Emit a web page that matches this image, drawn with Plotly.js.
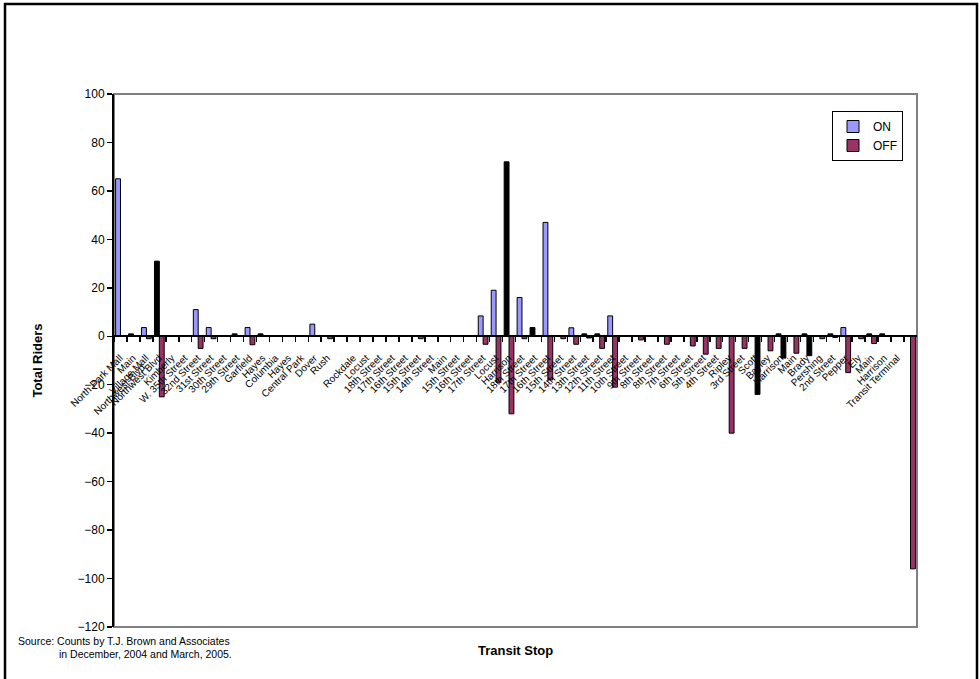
<!DOCTYPE html>
<html><head><meta charset="utf-8">
<script src="https://cdn.plot.ly/plotly-3.0.1.min.js"></script>
<style>html,body{margin:0;padding:0;background:#fff}#chart{width:980px;height:679px}</style>
</head><body><div id="chart"></div>
<script>
const stops = [
 "North Park Mall","Main<br>Northwest Blvd","Village Mall","Northwest Blvd","Kimberly","W. 35th Street","32nd Street",
 "31st Street","30th Street","29th Street","Garfield","Hayes","Columbia","Hayes","Central Park","Dover","Rush","",
 "Rockdale","Locust","18th Street","17th Street","16th Street","15th Street","14th Street","Main","15th Street",
 "16th Street","17th Street","Locust","Harrison","18th Street","17th Street","16th Street","15th Street","14th Street",
 "13th Street","12th Street","11th Street","10th Street","9th Street","8th Street","8th Street","7th Street",
 "6th Street","5th Street","4th Street","Ripley","3rd Street","Scott","Bayley","Harrison","Main","Brady",
 "Pershing","2nd Street","Pepper","Ely","Main","Harrison","Transit Terminal",""
];
const onRiders = [
 65,1,3.6,31,null,null,11,3.6,null,1,3.6,1,null,null,null,5,null,null,
 null,null,null,null,null,null,null,null,null,null,8.4,19,72,16,3.6,47,null,3.5,
 1,1,8.4,null,null,null,null,null,null,null,null,null,null,null,null,1,null,1,
 null,1,3.6,null,1,1,null,null
];
const offRiders = [
 null,null,-1,-25,null,null,-5,-1,null,null,-3.5,null,null,null,null,null,-1,null,
 null,null,null,null,null,-1,null,null,null,null,-3.3,-19,-32,-1,null,-18,-1,-3.3,
 -0.7,-5,-21,null,-1.5,null,-3.3,null,-4,-7.4,-5,-40,-5,-24,-6,-9,-7,-8,
 -1,-0.5,-15,-1,-3,null,null,-96
];
const yTicks = [100,80,60,40,20,0,-20,-40,-60,-80,-100,-120];
const darkOn = [1,3,9,11,30,32,36,37,51,53,55,58,59];
const darkOff = [36,49,51,53];

const idx = stops.map((_, i) => i);
const W = 980, H = 679, L = 114, R = 917, T = 94, B = 627;
const pw = R - L, ph = B - T;
const px = v => (v - L) / pw;
const py = v => (B - v) / ph;
const yMin = -120, yMax = 100;
const zeroPos = (0 - yMin) / (yMax - yMin);
const FONT = 'Liberation Sans, Arial, sans-serif';

const traces = [
 {type:'bar', name:'ON', x: idx, y: onRiders,
  marker:{color: idx.map(i => darkOn.includes(i) ? '#000000' : '#9999FF'), line:{color:'#000', width:1}},
  hoverinfo:'skip'},
 {type:'bar', name:'OFF', x: idx, y: offRiders,
  marker:{color: idx.map(i => darkOff.includes(i) ? '#000000' : '#993366'), line:{color:'#000', width:1}},
  hoverinfo:'skip'}
];

const layout = {
 width: W, height: H,
 margin: {l: L, r: W - R, t: T, b: H - B, pad: 0},
 paper_bgcolor: '#fff', plot_bgcolor: '#fff',
 barmode: 'group', bargap: 0.25, bargroupgap: 0,
 font: {family: FONT, color: '#000'},
 showlegend: true,
 legend: {x: px(903), y: py(111), xanchor: 'right', yanchor: 'top',
   bgcolor: '#fff', bordercolor: '#000', borderwidth: 1,
   font: {family: FONT, size: 12, color: '#000'}, itemwidth: 30, tracegroupgap: 0},
 xaxis: {
   range: [-0.5, idx.length - 0.5],
   tickmode: 'array', tickvals: idx.map(i => i - 0.5), ticktext: stops,
   ticklabelshift: 6, ticklabelstandoff: 6, tickangle: -45,
   ticks: 'outside', ticklen: 5, tickwidth: 1.5, tickcolor: '#000',
   showline: true, linecolor: '#000', linewidth: 2,
   anchor: 'free', position: zeroPos,
   showgrid: false, zeroline: false,
   tickfont: {family: FONT, size: 10, color: '#000'}
 },
 yaxis: {
   range: [yMin, yMax], tickmode: 'array', tickvals: yTicks,
   ticks: 'outside', ticklen: 5, tickwidth: 1.5, tickcolor: '#000',
   showline: true, linecolor: '#000', linewidth: 2,
   showgrid: false, zeroline: false,
   tickfont: {family: FONT, size: 12, color: '#000'},
   title: {text: '<b>Total Riders</b>', font: {family: FONT, size: 13, color: '#000'}, standoff: 32}
 },
 shapes: [
   {type:'rect', xref:'paper', yref:'paper', x0:0, x1:1, y0:0, y1:1, line:{color:'#808080', width:2}, layer:'below'},
   {type:'rect', xref:'paper', yref:'paper', x0:px(5), x1:px(977), y0:py(690), y1:py(4), line:{color:'#000', width:2.5}, layer:'below'}
 ],
 annotations: [
   {xref:'paper', yref:'paper', x:px(515), y:py(650), text:'<b>Transit Stop</b>', showarrow:false,
    xanchor:'center', yanchor:'middle', font:{family: FONT, size: 13, color:'#000'}},
   {xref:'paper', yref:'paper', x:px(16), y:py(641), text:'Source: Counts by T.J. Brown and Associates', showarrow:false,
    xanchor:'left', yanchor:'middle', font:{family: FONT, size: 10.5, color:'#000'}},
   {xref:'paper', yref:'paper', x:px(57), y:py(654), text:'in December, 2004 and March, 2005.', showarrow:false,
    xanchor:'left', yanchor:'middle', font:{family: FONT, size: 10.5, color:'#000'}}
 ]
};

Plotly.newPlot('chart', traces, layout, {displayModeBar: false, staticPlot: true});
</script>
</body></html>
